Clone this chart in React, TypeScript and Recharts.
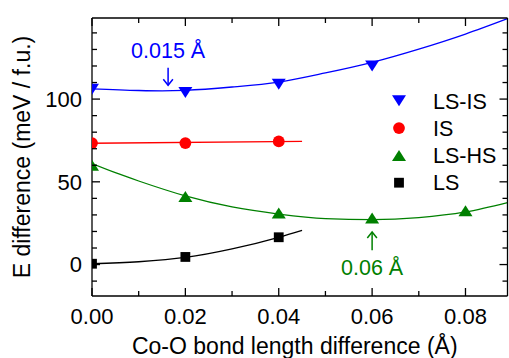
import React from 'react';
import * as R from 'recharts';
import { ComposedChart, Line, Scatter, XAxis, YAxis, ReferenceDot, Legend } from 'recharts';

const FONT = '"Liberation Sans", Arial, Helvetica, sans-serif';

const xMajorTicks = [0, 0.02, 0.04, 0.06, 0.08];
const xMinorTicks = [0.01, 0.03, 0.05, 0.07];
const yMajorTicks = [0, 50, 100];
const yMinorTicks = [-10, 10, 20, 30, 40, 60, 70, 80, 90, 110, 120, 130, 140];
const xDomain: [number, number] = [0, 0.089];
const yDomain: [number, number] = [-19, 149];

const lsIsPoints = [
  { x: 0, y: 106 },
  { x: 0.02, y: 104 },
  { x: 0.04, y: 109 },
  { x: 0.06, y: 120 },
];
const lsIsFit = [
  { x: 0, y: 106.2 },
  { x: 0.01, y: 105.2 },
  { x: 0.015, y: 105.0 },
  { x: 0.02, y: 105.3 },
  { x: 0.03, y: 107.3 },
  { x: 0.04, y: 110.3 },
  { x: 0.05, y: 115.8 },
  { x: 0.06, y: 122.2 },
  { x: 0.07, y: 130.2 },
  { x: 0.08, y: 139.3 },
  { x: 0.089, y: 148.6 },
];
const isPoints = [
  { x: 0, y: 73.4 },
  { x: 0.02, y: 73.4 },
  { x: 0.04, y: 74.4 },
];
const isFit = [
  { x: 0, y: 73.3 },
  { x: 0.045, y: 74.5 },
];
const lsHsPoints = [
  { x: 0, y: 60 },
  { x: 0.02, y: 41.2 },
  { x: 0.04, y: 31.2 },
  { x: 0.06, y: 28.1 },
  { x: 0.08, y: 32.5 },
];
const lsHsFit = [
  { x: 0, y: 61 },
  { x: 0.005, y: 55.5 },
  { x: 0.01, y: 50.5 },
  { x: 0.02, y: 41.5 },
  { x: 0.03, y: 34.8 },
  { x: 0.04, y: 30.5 },
  { x: 0.05, y: 27.8 },
  { x: 0.06, y: 27.2 },
  { x: 0.07, y: 28.4 },
  { x: 0.08, y: 31.8 },
  { x: 0.089, y: 37.5 },
];
const lsPoints = [
  { x: 0, y: 0.5 },
  { x: 0.02, y: 4.6 },
  { x: 0.04, y: 16.5 },
];
const lsFit = [
  { x: 0, y: 0.5 },
  { x: 0.01, y: 1.7 },
  { x: 0.02, y: 4.3 },
  { x: 0.03, y: 9.5 },
  { x: 0.04, y: 16.5 },
  { x: 0.045, y: 20.7 },
];

const BLUE = '#0000ff';
const RED = '#ff0000';
const GREEN = '#008000';
const BLACK = '#000000';

const legendItems = [
  { name: 'LS-IS', color: BLUE, marker: 'down' },
  { name: 'IS', color: RED, marker: 'circle' },
  { name: 'LS-HS', color: GREEN, marker: 'up' },
  { name: 'LS', color: BLACK, marker: 'square' },
];

const annotations = [
  { x: 0.0163, y: 105, text: '0.015 Å', color: BLUE, dir: 'down' },
  { x: 0.06, y: 27.2, text: '0.06 Å', color: GREEN, dir: 'up' },
];

const xAllTicks = [...xMajorTicks, ...xMinorTicks].sort((a, b) => a - b);
const yAllTicks = [...yMajorTicks, ...yMinorTicks].sort((a, b) => a - b);
const isMajor = (v: number, list: number[]) => list.some((m) => Math.abs(m - v) < 1e-9);

const MAJOR_LEN = 8;
const MINOR_LEN = 5;
const TICK_W = 1.3;
const TICK_FONT = 22;
const CLIP_ID = 'plot-area-clip';

function Marker({ kind, cx, cy, color }: { kind: string; cx: number; cy: number; color: string }) {
  if (kind === 'down') {
    return <polygon points={`${cx - 7},${cy - 5.5} ${cx + 7},${cy - 5.5} ${cx},${cy + 5.5}`} fill={color} />;
  }
  if (kind === 'up') {
    return <polygon points={`${cx - 7},${cy + 5.5} ${cx + 7},${cy + 5.5} ${cx},${cy - 5.5}`} fill={color} />;
  }
  if (kind === 'circle') {
    return <circle cx={cx} cy={cy} r={5.9} fill={color} />;
  }
  return <rect x={cx - 4.9} y={cy - 4.9} width={9.8} height={9.8} fill={color} />;
}

const makeShape = (kind: string, color: string) => (p: any) => (
  <g clipPath={`url(#${CLIP_ID})`}>
    <Marker kind={kind} cx={p.cx} cy={p.cy} color={color} />
  </g>
);

const usePlotAreaSafe: () => any = (R as any).usePlotArea ? (R as any).usePlotArea : () => null;

function PlotClip() {
  const area = usePlotAreaSafe();
  if (!area) return null;
  return (
    <defs>
      <clipPath id={CLIP_ID}>
        <rect x={area.x} y={area.y} width={area.width} height={area.height} />
      </clipPath>
    </defs>
  );
}

const makeAnnotation = (a: typeof annotations[number]) => (p: any) => {
  const { cx, cy } = p;
  if (a.dir === 'down') {
    return (
      <g>
        <text x={cx} y={cy - 32.4} textAnchor="middle" fill={a.color} fontSize={21.5} fontFamily={FONT}>
          {a.text}
        </text>
        <line x1={cx} y1={cy - 23} x2={cx} y2={cy - 5.5} stroke={a.color} strokeWidth={1.5} />
        <polyline
          points={`${cx - 4.8},${cy - 11.5} ${cx},${cy - 5.5} ${cx + 4.8},${cy - 11.5}`}
          fill="none"
          stroke={a.color}
          strokeWidth={1.5}
        />
      </g>
    );
  }
  return (
    <g>
      <line x1={cx} y1={cy + 12.4} x2={cx} y2={cy + 30.7} stroke={a.color} strokeWidth={1.5} />
      <polyline
        points={`${cx - 4.8},${cy + 18.4} ${cx},${cy + 12.4} ${cx + 4.8},${cy + 18.4}`}
        fill="none"
        stroke={a.color}
        strokeWidth={1.5}
      />
      <text x={cx} y={cy + 55.7} textAnchor="middle" fill={a.color} fontSize={21.5} fontFamily={FONT}>
        {a.text}
      </text>
    </g>
  );
};

function BottomTick(p: any) {
  const v = p.payload.value;
  const major = isMajor(v, xMajorTicks);
  return (
    <g>
      <line x1={p.x} y1={p.y} x2={p.x} y2={p.y - (major ? MAJOR_LEN : MINOR_LEN)} stroke="#000" strokeWidth={TICK_W} />
      {major && (
        <text x={p.x} y={p.y + 28} textAnchor="middle" fill="#000" fontSize={TICK_FONT} fontFamily={FONT}>
          {v.toFixed(2)}
        </text>
      )}
    </g>
  );
}

function TopTick(p: any) {
  const v = p.payload.value;
  const major = isMajor(v, xMajorTicks);
  return <line x1={p.x} y1={p.y} x2={p.x} y2={p.y + (major ? MAJOR_LEN : MINOR_LEN)} stroke="#000" strokeWidth={TICK_W} />;
}

function LeftTick(p: any) {
  const v = p.payload.value;
  const major = isMajor(v, yMajorTicks);
  return (
    <g>
      <line x1={p.x} y1={p.y} x2={p.x + (major ? MAJOR_LEN : MINOR_LEN)} y2={p.y} stroke="#000" strokeWidth={TICK_W} />
      {major && (
        <text x={p.x - 10} y={p.y + 7.8} textAnchor="end" fill="#000" fontSize={TICK_FONT} fontFamily={FONT}>
          {String(v)}
        </text>
      )}
    </g>
  );
}

function RightTick(p: any) {
  const v = p.payload.value;
  const major = isMajor(v, yMajorTicks);
  return <line x1={p.x} y1={p.y} x2={p.x - (major ? MAJOR_LEN : MINOR_LEN)} y2={p.y} stroke="#000" strokeWidth={TICK_W} />;
}

function LegendBox() {
  return (
    <svg width={129} height={115} style={{ display: 'block', overflow: 'visible' }}>
      {legendItems.map((it, i) => {
        const base = 23.5 + i * 27.3;
        return (
          <g key={it.name}>
            <Marker kind={it.marker} cx={19} cy={base - 7.7} color={it.color} />
            <text x={53} y={base} fontSize={21.5} fontFamily={FONT} fill="#000">
              {it.name}
            </text>
          </g>
        );
      })}
    </svg>
  );
}

const axisLineStyle = { stroke: '#000', strokeWidth: 1.3 };

export default function App() {
  return (
    <div style={{ position: 'absolute', left: 0, top: 0, width: 509, height: 358, background: '#fff' }}>
      <ComposedChart width={509} height={358} margin={{ top: 17, right: 0.5, bottom: 0, left: 0 }}>
        <PlotClip />
        <XAxis
          xAxisId="main"
          orientation="bottom"
          type="number"
          dataKey="x"
          domain={xDomain}
          allowDataOverflow
          ticks={xAllTicks}
          interval={0}
          tickSize={0}
          tickMargin={0}
          tickLine={false}
          tick={BottomTick}
          axisLine={axisLineStyle}
          height={62}
          label={{
            value: 'Co-O bond length difference (Å)',
            position: 'insideBottom',
            offset: 4,
            dx: -5,
            fill: '#000',
            fontSize: 23,
            fontFamily: FONT,
          }}
        />
        <XAxis
          xAxisId="top"
          orientation="top"
          type="number"
          dataKey="x"
          domain={xDomain}
          allowDataOverflow
          ticks={xAllTicks}
          interval={0}
          tickSize={0}
          tickMargin={0}
          tickLine={false}
          tick={TopTick}
          axisLine={axisLineStyle}
          height={1}
        />
        <YAxis
          yAxisId="main"
          orientation="left"
          type="number"
          dataKey="y"
          domain={yDomain}
          allowDataOverflow
          ticks={yAllTicks}
          interval={0}
          tickSize={0}
          tickMargin={0}
          tickLine={false}
          tick={LeftTick}
          axisLine={axisLineStyle}
          width={92}
          label={{
            value: 'E difference (meV / f.u.)',
            angle: -90,
            position: 'center',
            dx: -24.5,
            fill: '#000',
            fontSize: 23,
            fontFamily: FONT,
          }}
        />
        <YAxis
          yAxisId="right"
          orientation="right"
          type="number"
          dataKey="y"
          domain={yDomain}
          allowDataOverflow
          ticks={yAllTicks}
          interval={0}
          tickSize={0}
          tickMargin={0}
          tickLine={false}
          tick={RightTick}
          axisLine={axisLineStyle}
          width={1}
        />

        <Line xAxisId="main" yAxisId="main" data={lsIsFit} dataKey="y" type="monotone" stroke={BLUE} strokeWidth={1.3} dot={false} isAnimationActive={false} legendType="none" />
        <Line xAxisId="main" yAxisId="main" data={isFit} dataKey="y" type="linear" stroke={RED} strokeWidth={1.3} dot={false} isAnimationActive={false} legendType="none" />
        <Line xAxisId="main" yAxisId="main" data={lsHsFit} dataKey="y" type="monotone" stroke={GREEN} strokeWidth={1.3} dot={false} isAnimationActive={false} legendType="none" />
        <Line xAxisId="main" yAxisId="main" data={lsFit} dataKey="y" type="monotone" stroke={BLACK} strokeWidth={1.3} dot={false} isAnimationActive={false} legendType="none" />

        <Scatter xAxisId="main" yAxisId="main" name="LS-IS" data={lsIsPoints} dataKey="y" shape={makeShape('down', BLUE)} isAnimationActive={false} />
        <Scatter xAxisId="main" yAxisId="main" name="IS" data={isPoints} dataKey="y" shape={makeShape('circle', RED)} isAnimationActive={false} />
        <Scatter xAxisId="main" yAxisId="main" name="LS-HS" data={lsHsPoints} dataKey="y" shape={makeShape('up', GREEN)} isAnimationActive={false} />
        <Scatter xAxisId="main" yAxisId="main" name="LS" data={lsPoints} dataKey="y" shape={makeShape('square', BLACK)} isAnimationActive={false} />

        {annotations.map((a) => (
          <ReferenceDot
            key={a.text}
            xAxisId="main"
            yAxisId="main"
            x={a.x}
            y={a.y}
            r={0}
            shape={makeAnnotation(a)}
            ifOverflow="visible"
          />
        ))}

        <Legend
          layout="vertical"
          align="center"
          verticalAlign="middle"
          content={() => <LegendBox />}
          wrapperStyle={{ left: 380, top: 85, width: 129, height: 115 }}
        />
      </ComposedChart>
    </div>
  );
}
